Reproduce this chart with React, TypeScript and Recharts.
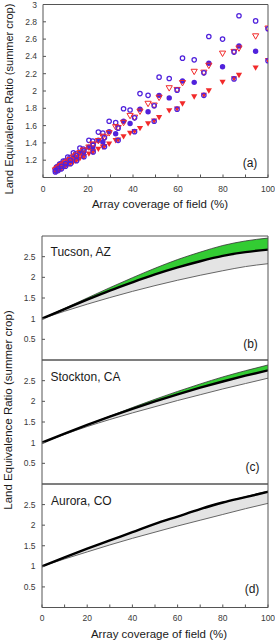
import React from 'react';
import { ScatterChart, Scatter, XAxis, YAxis, ComposedChart, Area, Line } from 'recharts';

// ---------- Panel (a) data ----------
const pairX = [94.5, 87.1, 79.8, 73.7, 67.2, 62.0, 56.1, 51.6, 46.7, 43.1, 38.7, 35.8, 32.3, 29.4, 26.6, 24.6, 22.1, 20.4, 17.9, 16.4, 14.6, 13.5, 12.0, 11.0, 9.8, 9.0, 8.0, 7.4, 6.6, 6.0];
const blueOpenY = [2.81, 2.87, 2.60, 2.63, 2.36, 2.38, 2.145, 2.16, 1.95, 1.97, 1.78, 1.795, 1.635, 1.65, 1.515, 1.525, 1.42, 1.43, 1.33, 1.34, 1.275, 1.285, 1.23, 1.235, 1.19, 1.19, 1.16, 1.155, 1.13, 1.12];
const blueFilledY = [2.46, 2.52, 2.28, 2.32, 2.10, 2.115, 1.92, 1.95, 1.76, 1.79, 1.625, 1.65, 1.505, 1.53, 1.41, 1.43, 1.34, 1.35, 1.28, 1.285, 1.225, 1.23, 1.185, 1.19, 1.15, 1.15, 1.12, 1.12, 1.095, 1.09];

const redX = [100, 94.5, 87.1, 84.9, 79.8, 73.7, 71.5, 67.2, 62.0, 59.6, 56.1, 51.6, 49.4, 46.7, 43.1, 40.7, 38.7, 35.8, 33.4, 32.3, 29.4, 27.3, 26.6, 24.6, 22.3, 22.1, 20.4, 18.2, 17.9, 16.4, 14.9, 14.6, 13.5, 12.2, 12.0, 11.0, 10.0, 9.8, 9.0, 8.2, 8.0, 7.4, 6.7, 6.6, 6.0, 5.5];
const redOpenY = [2.72, 2.63, 2.49, 2.45, 2.43, 2.29, 2.21, 2.22, 2.09, 2.01, 2.03, 1.92, 1.83, 1.85, 1.76, 1.69, 1.71, 1.63, 1.57, 1.58, 1.51, 1.46, 1.47, 1.42, 1.375, 1.38, 1.345, 1.305, 1.31, 1.28, 1.25, 1.25, 1.23, 1.2, 1.2, 1.18, 1.16, 1.16, 1.145, 1.13, 1.13, 1.115, 1.1, 1.1, 1.09, 1.08];
const redFilledY = [2.35, 2.265, 2.18, 2.14, 2.10, 2.00, 1.95, 1.93, 1.85, 1.79, 1.77, 1.69, 1.65, 1.62, 1.565, 1.53, 1.51, 1.47, 1.43, 1.425, 1.385, 1.355, 1.35, 1.325, 1.295, 1.29, 1.27, 1.24, 1.235, 1.215, 1.195, 1.19, 1.175, 1.16, 1.155, 1.14, 1.13, 1.125, 1.115, 1.10, 1.10, 1.09, 1.08, 1.08, 1.07, 1.065];

const comboX = [100, 84.9, 71.5, 59.6, 49.4, 40.7, 33.4, 27.3, 22.3, 18.2, 14.9, 12.2, 10.0, 8.2, 6.7, 5.5];
const comboUpperY = [2.72, 2.45, 2.21, 2.01, 1.83, 1.69, 1.57, 1.46, 1.375, 1.305, 1.25, 1.2, 1.16, 1.13, 1.1, 1.08];
const comboLowerY = [2.35, 2.14, 1.95, 1.79, 1.65, 1.53, 1.43, 1.355, 1.295, 1.24, 1.195, 1.16, 1.13, 1.10, 1.08, 1.065];

const aYTicks = [1.2, 1.4, 1.6, 1.8, 2, 2.2, 2.4, 2.6, 2.8, 3];
const xTicks = [0, 10, 20, 30, 40, 50, 60, 70, 80, 90, 100];

// ---------- Panels (b)-(d) data ----------
const curveX = [0, 10, 20, 30, 40, 50, 60, 70, 80, 90, 100];
const tucsonUpper = [1, 1.25, 1.50, 1.75, 1.99, 2.22, 2.43, 2.61, 2.77, 2.88, 2.95];
const tucsonMid = [1, 1.23, 1.46, 1.68, 1.88, 2.07, 2.24, 2.39, 2.52, 2.61, 2.67];
const tucsonLower = [1, 1.18, 1.35, 1.51, 1.66, 1.80, 1.93, 2.05, 2.16, 2.26, 2.33];
const stocktonUpper = [1, 1.22, 1.43, 1.64, 1.85, 2.05, 2.24, 2.42, 2.59, 2.74, 2.88];
const stocktonMid = [1, 1.22, 1.43, 1.63, 1.82, 2.00, 2.17, 2.33, 2.48, 2.62, 2.75];
const stocktonLower = [1, 1.20, 1.39, 1.56, 1.72, 1.87, 2.02, 2.16, 2.30, 2.43, 2.56];
const auroraUpper = [1, 1.22, 1.43, 1.63, 1.83, 2.03, 2.21, 2.39, 2.55, 2.69, 2.83];
const auroraMid = [1, 1.22, 1.43, 1.63, 1.83, 2.03, 2.21, 2.39, 2.55, 2.68, 2.81];
const auroraLower = [1, 1.18, 1.35, 1.52, 1.68, 1.83, 1.98, 2.12, 2.26, 2.40, 2.53];
const bYTicks = [0.5, 1, 1.5, 2, 2.5];

// ---------- styles ----------
const FONT = '"Liberation Sans", Arial, Helvetica, sans-serif';
const BLUE = '#5022dc';
const RED = '#f22a2a';
const GREEN = '#33cc33';
const AXIS = '#555555';
const TICK_TEXT = '#3a3a3a';

const pts = (xs: number[], ys: number[]) => xs.map((x, i) => ({ x, y: ys[i] }));
const fmtX = (v: number) => (v % 20 === 0 ? String(v) : '');
const tickStyle = { fill: TICK_TEXT, fontSize: 8.5, fontFamily: FONT };

const openCircle = (color: string) => (p: any) => (
  <circle cx={p.cx} cy={p.cy} r={2.2} fill="none" stroke={color} strokeWidth={1.25} />
);
const filledCircle = (color: string) => (p: any) => (
  <circle cx={p.cx} cy={p.cy} r={2.7} fill={color} stroke="none" />
);
const triDown = (color: string, filled: boolean) => (p: any) => {
  const w = 3.1;
  const h = 2.7;
  const d = `M${p.cx - w},${p.cy - h} L${p.cx + w},${p.cy - h} L${p.cx},${p.cy + h} Z`;
  return filled ? (
    <path d={d} fill={color} stroke="none" />
  ) : (
    <path d={d} fill="none" stroke={color} strokeWidth={1} />
  );
};

function PanelA() {
  return (
    <div style={{ position: 'absolute', left: 0, top: 0 }}>
      <ScatterChart width={275} height={215} margin={{ top: 3.5, right: 0, bottom: 0, left: 0 }}>
        <XAxis xAxisId="t" orientation="top" type="number" dataKey="x" domain={[0, 100]} ticks={xTicks}
          tick={false} tickSize={-3} height={1} stroke={AXIS} allowDataOverflow />
        <XAxis xAxisId="b" orientation="bottom" type="number" dataKey="x" domain={[0, 100]} ticks={xTicks}
          interval={0} tickFormatter={fmtX} tickSize={-3} tickMargin={11} height={37.5} stroke={AXIS}
          tick={tickStyle} allowDataOverflow />
        <YAxis yAxisId="l" type="number" dataKey="y" domain={[1, 3]} ticks={aYTicks} interval={0}
          tickSize={-3} tickMargin={9} width={43} stroke={AXIS} tick={tickStyle} allowDataOverflow />
        <YAxis yAxisId="r" orientation="right" type="number" dataKey="y" domain={[1, 3]} ticks={aYTicks}
          tick={false} tickSize={-3} width={7} stroke={AXIS} allowDataOverflow />
        <Scatter xAxisId="b" yAxisId="l" data={pts(pairX, blueOpenY)} shape={openCircle(BLUE)} isAnimationActive={false} />
        <Scatter xAxisId="b" yAxisId="l" data={pts(pairX, blueFilledY)} shape={filledCircle(BLUE)} isAnimationActive={false} />
        <Scatter xAxisId="b" yAxisId="l" data={pts(redX, redOpenY)} shape={triDown(RED, false)} isAnimationActive={false} />
        <Scatter xAxisId="b" yAxisId="l" data={pts(redX, redFilledY)} shape={triDown(RED, true)} isAnimationActive={false} />
        <Scatter xAxisId="b" yAxisId="l" data={pts(comboX, comboUpperY)} shape={openCircle(BLUE)} isAnimationActive={false} />
        <Scatter xAxisId="b" yAxisId="l" data={pts(comboX, comboLowerY)} shape={openCircle(BLUE)} isAnimationActive={false} />
      </ScatterChart>
    </div>
  );
}

type RegionProps = {
  top: number;
  height: number;
  bottomAxisHeight: number;
  showXLabels: boolean;
  upper: number[];
  mid: number[];
  lower: number[];
};

function RegionPanel({ top, height, bottomAxisHeight, showXLabels, upper, mid, lower }: RegionProps) {
  const rows = curveX.map((x, i) => ({
    x,
    upper: upper[i],
    mid: mid[i],
    lower: lower[i],
    green: [mid[i], upper[i]],
    gray: [lower[i], mid[i]],
  }));
  return (
    <div style={{ position: 'absolute', left: 0, top }}>
      <ComposedChart width={275} height={height} data={rows} margin={{ top: 9, right: 0, bottom: 0, left: 0 }}>
        <XAxis xAxisId="t" orientation="top" type="number" dataKey="x" domain={[0, 100]} ticks={xTicks}
          tick={false} tickSize={-3} height={1} stroke={AXIS} allowDataOverflow />
        <XAxis xAxisId="b" orientation="bottom" type="number" dataKey="x" domain={[0, 100]} ticks={xTicks}
          interval={0} tickFormatter={fmtX} tickSize={-3} tickMargin={10.5} height={bottomAxisHeight}
          stroke={AXIS} tick={showXLabels ? tickStyle : false} allowDataOverflow />
        <YAxis yAxisId="l" type="number" domain={[0, 3]} ticks={bYTicks} interval={0}
          tickSize={-3} tickMargin={9.5} width={42} stroke={AXIS} tick={tickStyle} allowDataOverflow />
        <YAxis yAxisId="r" orientation="right" type="number" domain={[0, 3]} ticks={bYTicks}
          tick={false} tickSize={-3} width={7} stroke={AXIS} allowDataOverflow />
        <Area xAxisId="b" yAxisId="l" type="monotone" dataKey="gray" fill="#e4e4e4" fillOpacity={1} stroke="none" isAnimationActive={false} />
        <Area xAxisId="b" yAxisId="l" type="monotone" dataKey="green" fill={GREEN} fillOpacity={1} stroke="none" isAnimationActive={false} />
        <Line xAxisId="b" yAxisId="l" type="monotone" dataKey="lower" stroke="#666666" strokeWidth={1} dot={false} isAnimationActive={false} />
        <Line xAxisId="b" yAxisId="l" type="monotone" dataKey="upper" stroke="#333333" strokeWidth={0.8} dot={false} isAnimationActive={false} />
        <Line xAxisId="b" yAxisId="l" type="monotone" dataKey="mid" stroke="#000000" strokeWidth={2.4} dot={false} isAnimationActive={false} />
      </ComposedChart>
    </div>
  );
}

function Overlay() {
  const t = { fontFamily: FONT, fill: '#1a1a1a' };
  return (
    <svg width={275} height={640} style={{ position: 'absolute', left: 0, top: 0, pointerEvents: 'none' }}>
      <text x={9} y={99} transform="rotate(-90 9 99)" textAnchor="middle" dominantBaseline="central" fontSize={11} {...t}>
        Land Equivalence Ratio (summer crop)
      </text>
      <text x={160} y={204} textAnchor="middle" dominantBaseline="central" fontSize={11.5} {...t}>
        Array coverage of field (%)
      </text>
      <text x={250} y={163} textAnchor="middle" dominantBaseline="central" fontSize={12} {...t}>(a)</text>

      <text x={8} y={410} transform="rotate(-90 8 410)" textAnchor="middle" dominantBaseline="central" fontSize={11.5} {...t}>
        Land Equivalence Ratio (summer crop)
      </text>
      <text x={50.5} y={252} dominantBaseline="central" fontSize={12} {...t}>Tucson, AZ</text>
      <text x={250.5} y={344} textAnchor="middle" dominantBaseline="central" fontSize={12} {...t}>(b)</text>
      <text x={50.5} y={377} dominantBaseline="central" fontSize={12} {...t}>Stockton, CA</text>
      <text x={252.5} y={467} textAnchor="middle" dominantBaseline="central" fontSize={12} {...t}>(c)</text>
      <text x={51} y={501} dominantBaseline="central" fontSize={12} {...t}>Aurora, CO</text>
      <text x={252} y={589} textAnchor="middle" dominantBaseline="central" fontSize={12} {...t}>(d)</text>
      <text x={159} y={634} textAnchor="middle" dominantBaseline="central" fontSize={11.5} {...t}>
        Array coverage of field (%)
      </text>
    </svg>
  );
}

export default function App() {
  return (
    <div style={{ position: 'absolute', left: 0, top: 0, width: 275, height: 640, background: '#ffffff', overflow: 'hidden' }}>
      <PanelA />
      <RegionPanel top={226} height={135} bottomAxisHeight={1} showXLabels={false}
        upper={tucsonUpper} mid={tucsonMid} lower={tucsonLower} />
      <RegionPanel top={350} height={135} bottomAxisHeight={1} showXLabels={false}
        upper={stocktonUpper} mid={stocktonMid} lower={stocktonLower} />
      <RegionPanel top={474} height={166} bottomAxisHeight={32.5} showXLabels={true}
        upper={auroraUpper} mid={auroraMid} lower={auroraLower} />
      <Overlay />
    </div>
  );
}
